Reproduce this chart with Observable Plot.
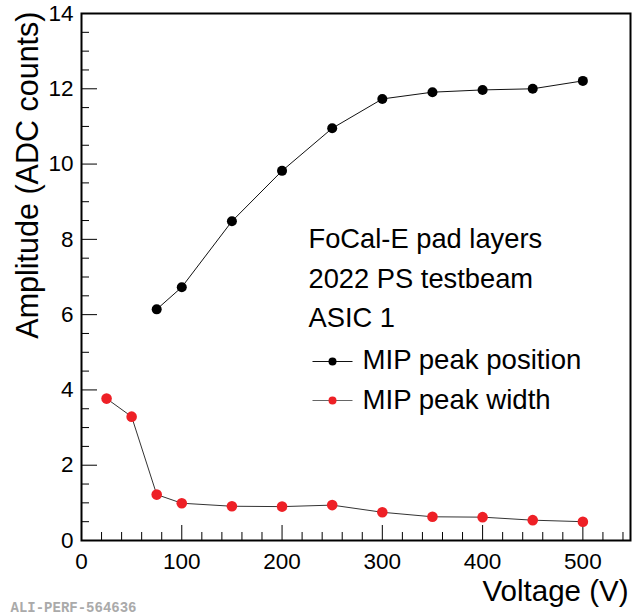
<!DOCTYPE html>
<html>
<head>
<meta charset="utf-8">
<script src="https://cdn.jsdelivr.net/npm/d3@7"></script>
<script src="https://cdn.jsdelivr.net/npm/@observablehq/plot@0.6"></script>
<style>
  html, body { margin: 0; padding: 0; background: #fff; }
  #chart svg { display: block; }
</style>
</head>
<body>
<div id="chart"></div>
<script>
// ---- data ----
const voltagePos = [75, 100, 150, 200, 250, 300, 350, 400, 450, 500];
const peakPosition = [6.14, 6.73, 8.48, 9.82, 10.95, 11.73, 11.91, 11.97, 12.0, 12.21];
const voltageWidth = [25, 50, 75, 100, 150, 200, 250, 300, 350, 400, 450, 500];
const peakWidth = [3.77, 3.29, 1.22, 0.99, 0.91, 0.90, 0.94, 0.75, 0.63, 0.62, 0.54, 0.50];
const xMajorTicks = [0, 100, 200, 300, 400, 500];
const xMinorTicks = d3.range(0, 548, 20).filter(v => v % 100 !== 0);
const yMajorTicks = [0, 2, 4, 6, 8, 10, 12, 14];
const yMinorTicks = d3.range(0, 14, 0.5).filter(v => v % 2 !== 0);
const infoLines = ["FoCal-E pad layers", "2022 PS testbeam", "ASIC 1"];
const legendLabels = ["MIP peak position", "MIP peak width"];
const xTitle = "Voltage (V)";
const yTitle = "Amplitude (ADC counts)";
const watermark = "ALI-PERF-564636";

const posData = voltagePos.map((v, i) => ({v, a: peakPosition[i]}));
const widthData = voltageWidth.map((v, i) => ({v, a: peakWidth[i]}));

const RED = "#ee2026";
const FONT = "'Liberation Sans', Arial, Helvetica, sans-serif";
const hline = {draw(context) { context.moveTo(-20, 0); context.lineTo(20, 0); }};

const chart = Plot.plot({
  width: 634,
  height: 615,
  marginLeft: 81,
  marginRight: 4,
  marginTop: 13,
  marginBottom: 75,
  style: {fontFamily: FONT, background: "#fff", color: "#000"},
  x: {domain: [0, 547.5]},
  y: {domain: [0, 14]},
  marks: [
    Plot.axisX({ticks: xMajorTicks, tickSize: -15, tickPadding: 28, fontSize: 22.5, label: null, tickFormat: d => String(d)}),
    Plot.axisX({ticks: xMinorTicks, tickSize: -8, tickFormat: () => "", label: null}),
    Plot.axisY({ticks: yMajorTicks, tickSize: -16, tickPadding: 24, fontSize: 22.5, label: null, tickFormat: d => String(d)}),
    Plot.axisY({ticks: yMinorTicks, tickSize: -8, tickFormat: () => "", label: null}),
    Plot.frame({stroke: "#000", strokeWidth: 2}),
    Plot.line(posData, {x: "v", y: "a", stroke: "#111", strokeWidth: 1}),
    Plot.dot(posData, {x: "v", y: "a", r: 5, fill: "#000"}),
    Plot.line(widthData, {x: "v", y: "a", stroke: "#333", strokeWidth: 1}),
    Plot.dot(widthData, {x: "v", y: "a", r: 5.3, fill: RED}),
    // info text
    ...infoLines.map((t, i) => Plot.text([t], {text: d => d, frameAnchor: "top-left", textAnchor: "start", lineAnchor: "bottom",
      dx: 227, dy: 234.5 + i * 39.5, fontSize: 27.3, fill: "#000"})),
    // legend
    ...legendLabels.map((t, i) => Plot.dot([t], {frameAnchor: "top-left", dx: 251, dy: 348 + i * 39, symbol: hline, r: 4,
      stroke: i === 0 ? "#111" : "#666", strokeWidth: 1.2, fill: "none"})),
    ...legendLabels.map((t, i) => Plot.dot([t], {frameAnchor: "top-left", dx: 251, dy: 348 + i * 39, r: 4,
      fill: i === 0 ? "#000" : RED})),
    ...legendLabels.map((t, i) => Plot.text([t], {text: d => d, frameAnchor: "top-left", textAnchor: "start", lineAnchor: "bottom",
      dx: 281, dy: 355 + i * 40, fontSize: 27.6, fill: "#000"})),
    // axis titles
    Plot.text([xTitle], {text: d => d, frameAnchor: "bottom-right", textAnchor: "end", lineAnchor: "bottom",
      dx: -2, dy: 60, fontSize: 29.5, fill: "#000"}),
    Plot.text([yTitle], {text: d => d, frameAnchor: "top-left", textAnchor: "end", lineAnchor: "bottom",
      rotate: -90, dx: -44, dy: -2, fontSize: 30.5, fill: "#000"}),
    Plot.text([watermark], {text: d => d, frameAnchor: "bottom-left", textAnchor: "start", lineAnchor: "bottom",
      dx: -71, dy: 71, fontSize: 14, fontWeight: "bold", fontFamily: "'Liberation Mono', 'Courier New', monospace", fill: "#aaa"})
  ]
});
document.getElementById("chart").appendChild(chart);
</script>
</body>
</html>
